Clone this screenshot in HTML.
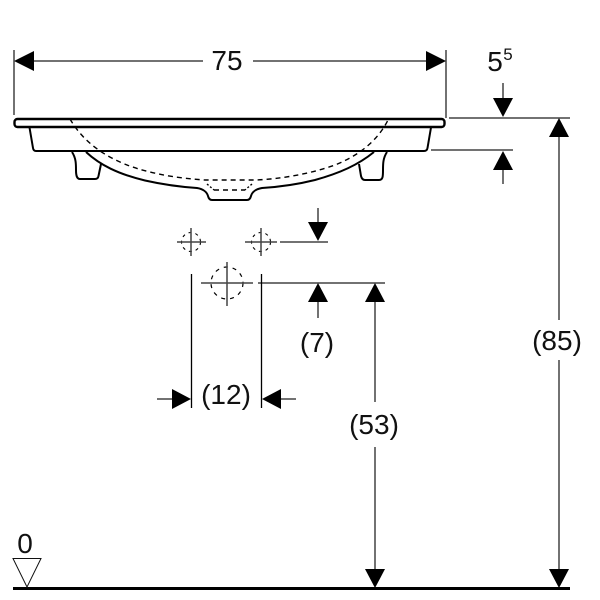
<!DOCTYPE html>
<html><head><meta charset="utf-8"><style>
html,body{margin:0;padding:0;background:#fff}
svg{display:block}
text{font-family:"Liberation Sans",sans-serif;font-size:28px;fill:#111;text-anchor:middle}
</style></head><body>
<svg width="600" height="600" viewBox="0 0 600 600" xmlns="http://www.w3.org/2000/svg">
<g fill="none" stroke="#000" stroke-width="2" stroke-linejoin="round">
<rect x="14.500" y="119" width="430" height="8" rx="3" stroke-width="2.400"/>
<path d="M29.500 127.500L33 148Q33.500 151 36 151H424Q427 151 427.500 148L431 127.500" stroke-width="2"/>
<path d="M86 152C100 165 118 174 145 180.500C165 185 182 187 197 188C203 189 207 192 208 196Q209 200 212 200H247Q250 200 251 196C252 192 256 189 262 188C278 187 295 185 315 180C340 173 358 165 374 152"/>
<path d="M72 152C76 158 76 164 76 170C76 176 77 179 80 179H95Q98 179 98.500 176L101 164"/>
<path d="M387 152C383 158 383 164 383 170C383 176 383 180 379 180H365Q362 180 361 176L359 164"/>
</g>
<g fill="none" stroke="#000" stroke-width="1.400" stroke-dasharray="5 4">
<path d="M70 119C85 145 112 163 150 172C170 177 190 179 205 180H256C280 179 310 174 335 165C360 155 378 140 388 120"/>
<path d="M214 190H245"/>
<path d="M207 184L214 190M252 184L245 190" stroke-dasharray="2 2"/>
<circle cx="227" cy="283" r="16" stroke-width="1.200" stroke-dasharray="4 5"/>
<circle cx="191" cy="242" r="9.500" stroke-width="1.100" stroke-dasharray="3 4"/>
<circle cx="261" cy="242" r="9.500" stroke-width="1.100" stroke-dasharray="3 4"/>
</g>
<g fill="none" stroke="#444" stroke-width="1.500">
<path d="M14 50V115M446 50V118"/>
<path d="M34 61H203M253 61H427"/>
<path d="M449 118H570M431 150H513"/>
<path d="M503 83V98M503 170V184"/>
<path d="M559 137V320M559 360V569"/>
<path d="M375 302V402M375 447V569"/>
<path d="M318 302V318M318 208V222"/>
<path d="M280 242H328M258 283H385"/>
<path d="M177 242H206M191 228V256M245 242H277M261 228V256"/>
<path d="M201 283H253M227 262V306"/>
<path d="M157 399H172M281 399H296"/>
</g>
<path d="M191.500 274V408M261.500 274V408" stroke="#000" stroke-width="1.300" fill="none"/>
<path d="M13 588.500H570" stroke="#000" stroke-width="3" fill="none"/>
<path d="M13 558.500H41L27 587Z" stroke="#111" stroke-width="1" fill="none"/>
<g fill="#000">
<path d="M14 61L34 51V71Z"/>
<path d="M446 61L426 51V71Z"/>
<path d="M493 98H513L503 117Z"/>
<path d="M493 170H513L503 151Z"/>
<path d="M559 118L549 137H569Z"/>
<path d="M559 588L549 569H569Z"/>
<path d="M375 283L365 302H385Z"/>
<path d="M375 588L365 569H385Z"/>
<path d="M318 283L308 302H328Z"/>
<path d="M318 241L308 222H328Z"/>
<path d="M191 399L172 389V409Z"/>
<path d="M262 399L281 389V409Z"/>
</g>
<text x="227" y="70">75</text>
<text x="495" y="71">5</text>
<text x="508" y="60" style="font-size:17px">5</text>
<text x="557" y="350">(85)</text>
<text x="374" y="434">(53)</text>
<text x="317" y="352">(7)</text>
<text x="226" y="404">(12)</text>
<text x="25" y="553">0</text>
</svg>
</body></html>
